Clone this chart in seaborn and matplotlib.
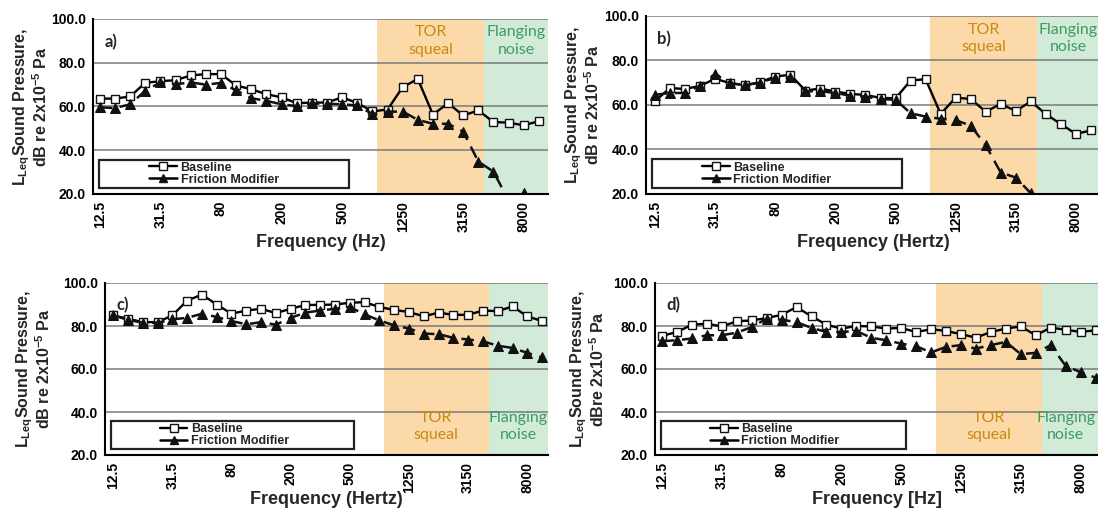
import numpy as np
import matplotlib
matplotlib.use("Agg")
import matplotlib.pyplot as plt
from matplotlib.lines import Line2D
from matplotlib.patches import Rectangle
import seaborn as sns

nan = np.nan

# One-third octave band centre frequencies (Hz)
bands = ["12.5", "16", "20", "25", "31.5", "40", "50", "63", "80", "100",
         "125", "160", "200", "250", "315", "400", "500", "630", "800", "1000",
         "1250", "1600", "2000", "2500", "3150", "4000", "5000", "6300", "8000", "10000"]

# LLeq sound pressure levels (dB re 2x10^-5 Pa)
a_baseline = [63.6, 63.6, 64.6, 70.8, 71.6, 72.0, 74.2, 74.8, 74.8, 69.6,
              67.9, 65.6, 64.2, 61.5, 61.8, 61.8, 64.2, 61.6, 57.8, 58.6,
              68.8, 72.6, 56.3, 61.5, 55.9, 58.2, 52.9, 52.6, 51.4, 53.3]
a_friction = [59.6, 59.3, 61.0, 67.2, 71.0, 70.2, 71.0, 70.0, 70.8, 67.4,
              63.8, 62.6, 61.0, 60.2, 61.4, 61.3, 61.0, 60.5, 56.6, 57.6,
              57.7, 53.9, 52.1, 52.1, 48.5, 34.8, 30.2, 17.0, 20.3, nan]

b_baseline = [61.8, 67.6, 67.2, 68.6, 71.8, 69.8, 68.9, 70.3, 72.8, 73.6,
              66.5, 67.4, 66.0, 65.0, 64.5, 63.2, 63.0, 71.0, 71.6, 56.0,
              63.3, 62.7, 57.0, 60.5, 57.3, 61.6, 55.9, 51.4, 47.0, 48.6]
b_friction = [64.6, 65.4, 65.4, 68.6, 73.8, 69.8, 68.9, 70.1, 72.2, 72.4,
              66.2, 66.2, 65.4, 64.2, 63.8, 62.6, 62.4, 56.3, 54.8, 53.8,
              53.2, 50.7, 41.9, 29.6, 27.4, 20.3, 17.0, nan, nan, nan]

c_baseline = [84.9, 83.4, 81.8, 81.8, 84.9, 91.8, 94.6, 90.0, 85.7, 87.2,
              88.0, 86.0, 88.0, 89.8, 89.8, 90.0, 90.8, 91.1, 88.8, 87.5,
              86.5, 84.5, 86.2, 85.2, 85.2, 87.2, 86.9, 89.1, 84.5, 82.3]
c_friction = [84.9, 82.9, 81.5, 81.5, 83.1, 83.8, 85.7, 84.2, 82.3, 80.8,
              81.8, 80.6, 83.8, 86.2, 87.2, 88.0, 88.8, 85.4, 82.6, 80.3,
              78.8, 76.5, 76.2, 74.5, 73.7, 72.9, 70.8, 69.8, 67.5, 65.4]

d_baseline = [75.4, 77.2, 80.6, 81.1, 79.8, 82.2, 82.6, 83.7, 85.2, 88.8,
              84.5, 80.6, 78.8, 80.0, 79.8, 78.8, 79.1, 77.2, 78.5, 77.7,
              76.2, 74.6, 77.2, 78.8, 79.8, 75.7, 79.2, 78.3, 77.2, 78.0]
d_friction = [72.9, 73.4, 74.2, 75.7, 75.7, 76.9, 79.5, 83.4, 82.9, 81.8,
              79.1, 77.2, 77.2, 77.7, 74.5, 73.4, 71.8, 70.6, 67.7, 70.3,
              71.1, 69.5, 71.1, 72.6, 66.9, 67.5, 71.1, 61.5, 58.5, 56.0]

series_labels = ["Baseline", "Friction Modifier"]
panel_tags = ["a)", "b)", "c)", "d)"]
x_titles = ["Frequency (Hz)", "Frequency (Hertz)", "Frequency (Hertz)", "Frequency [Hz]"]
y_titles = ["$L_{Leq}$Sound Pressure,\ndB re 2x10$^{-5}$ Pa",
            "$L_{Leq}$Sound Pressure,\ndB re 2x10$^{-5}$ Pa",
            "$L_{Leq}$Sound Pressure,\ndB re 2x10$^{-5}$ Pa",
            "$L_{Leq}$Sound Pressure,\ndBre 2x10$^{-5}$ Pa"]
band_regions = ["TOR\nsqueal", "Flanging\nnoise"]
y_ticks = [20, 40, 60, 80, 100]

# ---------------------------------------------------------------- style
sns.set_style("white")
plt.rcParams["font.family"] = ["Liberation Sans", "DejaVu Sans"]
plt.rcParams["mathtext.fontset"] = "custom"
plt.rcParams["mathtext.rm"] = "Liberation Sans:bold"
plt.rcParams["mathtext.it"] = "Liberation Sans:bold"
plt.rcParams["mathtext.bf"] = "Liberation Sans:bold"

W, H = 1098, 517
fig = plt.figure(figsize=(W / 100, H / 100), dpi=100)

# axes frames in pixels: left, top, right, bottom
frames = [(93, 19, 548, 194), (646, 16, 1100, 194),
          (105, 283, 548, 455), (655, 283, 1100, 455)]
xlims = [(-0.45, 29.6), (-0.6, 29.6), (-0.55, 29.4), (-0.47, 29.3)]
ylabel_right_px = [50, 602, 53, 607]
xlabel_gap_px = [40, 40, 36, 36]
region_text_y = [0.875, 0.875, 0.165, 0.165]
flange_text_shift = [0.0, 0.0, 0.0, -0.35]

ORANGE = "#fbd9a9"
GREEN = "#d2ead8"
ORANGE_TXT = "#c98a12"
GREEN_TXT = "#3d9c64"
GRID = "#7a7a7a"

x = np.arange(len(bands))
tor_lo, tor_hi = 18.3, 25.4

datasets = [(a_baseline, a_friction), (b_baseline, b_friction),
            (c_baseline, c_friction), (d_baseline, d_friction)]

for i, (base, fm) in enumerate(datasets):
    l, t, r, b = frames[i]
    w_px, h_px = r - l, b - t
    ax = fig.add_axes([l / W, 1 - b / H, w_px / W, h_px / H])
    ax.set_xlim(*xlims[i])
    ax.set_ylim(20, 100)

    ax.axvspan(tor_lo, tor_hi, color=ORANGE, lw=0, zorder=0)
    ax.axvspan(tor_hi, xlims[i][1] + 1, color=GREEN, lw=0, zorder=0)
    for yv in [40, 60, 80, 100]:
        ax.axhline(yv, color=GRID, lw=1.1, zorder=1)

    sns.lineplot(x=x, y=base, ax=ax, color="black", lw=1.7, marker="s",
                 markersize=6, markerfacecolor="white", markeredgecolor="#111111",
                 markeredgewidth=1.0, zorder=3, legend=False)
    sns.lineplot(x=x, y=fm, ax=ax, color="#111111", lw=1.8, linestyle=(0, (5, 3)),
                 marker="^", markersize=7, markerfacecolor="#111111",
                 markeredgecolor="#111111", zorder=3, legend=False)

    for s in ["top", "right"]:
        ax.spines[s].set_visible(False)
    for s in ["left", "bottom"]:
        ax.spines[s].set_color("black")
        ax.spines[s].set_linewidth(1.5)
        ax.spines[s].set_zorder(4)

    ax.set_yticks(y_ticks)
    ax.set_yticklabels([f"{v:.1f}" for v in y_ticks], fontsize=10, fontweight="bold")
    ax.set_xticks(x)
    ax.set_xticklabels([lab if k % 4 == 0 else "" for k, lab in enumerate(bands)],
                       rotation=90, fontsize=10, fontweight="bold")
    ax.tick_params(axis="y", direction="out", length=4, width=1.2, pad=1, colors="black")
    ax.tick_params(axis="x", direction="inout", length=6, width=1.1, pad=2, colors="black")
    ax.grid(False)

    ax.set_xlabel(x_titles[i], fontsize=13, fontweight="bold")
    ax.xaxis.set_label_coords(0.5, -xlabel_gap_px[i] / h_px)
    ax.set_ylabel(y_titles[i], fontsize=11.5, fontweight="bold", linespacing=0.95)
    ax.yaxis.set_label_coords(-(l - ylabel_right_px[i]) / w_px, 0.5)

    # region captions
    ax.text((tor_lo + tor_hi) / 2, region_text_y[i], band_regions[0],
            transform=ax.get_xaxis_transform(), ha="center", va="center",
            color=ORANGE_TXT, fontsize=11.5, family="Lato", linespacing=1.3, zorder=5)
    ax.text((tor_hi + xlims[i][1]) / 2 + flange_text_shift[i], region_text_y[i],
            band_regions[1], transform=ax.get_xaxis_transform(), ha="center",
            va="center", color=GREEN_TXT, fontsize=11.5, family="Lato",
            linespacing=1.3, zorder=5)

    ax.text(0.025, 0.87, panel_tags[i], transform=ax.transAxes, ha="left", va="center",
            fontsize=12, fontweight="bold", family="Lato", zorder=5)

    # legend in an outlined box
    ax.add_patch(Rectangle((0.013, 0.035), 0.55, 0.16, transform=ax.transAxes,
                           facecolor="white", edgecolor="#222222", lw=1.6, zorder=6))
    handles = [Line2D([], [], color="black", lw=1.7, marker="s", markersize=6,
                      markerfacecolor="white", markeredgecolor="#111111"),
               Line2D([], [], color="black", lw=1.8, marker="^", markersize=6,
                      markerfacecolor="#111111", markeredgecolor="#111111")]
    leg = ax.legend(handles, series_labels, loc="center left",
                    bbox_to_anchor=(0.11, 0.115), frameon=False, borderpad=0,
                    handlelength=2.2, handletextpad=0.3, labelspacing=0.0,
                    prop={"weight": "bold", "size": 9})
    leg.set_zorder(7)

fig.savefig("out.png", dpi=100)
